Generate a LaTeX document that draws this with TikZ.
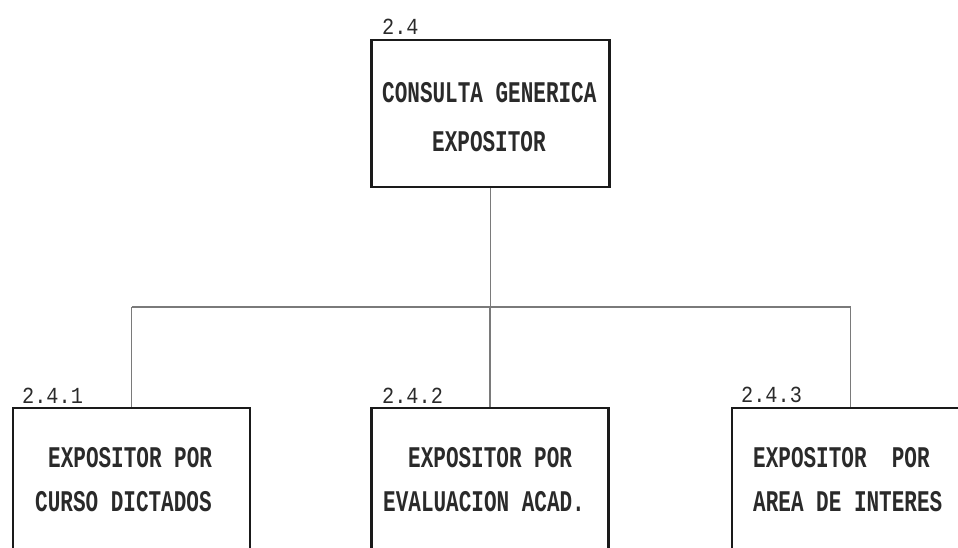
\documentclass[tikz,border=0pt]{standalone}
\usepackage{fontspec}
\newfontfamily\boxfont[FakeStretch=0.7]{Liberation Mono}
\newfontfamily\numfont[FakeStretch=0.88]{Liberation Mono}
\definecolor{boxc}{HTML}{1A1A1A}
\definecolor{linec}{HTML}{7A7A7A}
\definecolor{txtc}{HTML}{2A2A2A}
\begin{document}
\begin{tikzpicture}[x=1pt,y=-1pt,
  procbox/.style={draw=boxc, line width=2.6pt, rectangle, inner sep=0pt, minimum width=237pt},
  link/.style={draw=linec, line width=1.1pt},
  boxtext/.style={anchor=base west, inner sep=0pt, text=txtc, font=\boxfont\bfseries\fontsize{30}{30}\selectfont},
  numtext/.style={anchor=base west, inner sep=0pt, text=txtc, font=\numfont\fontsize{23}{23}\selectfont}]
\useasboundingbox (0,0) rectangle (958,548);
\clip (0,0) rectangle (958,548);
% boxes
\node[procbox, minimum width=238pt, minimum height=147pt] (top) at (490.5,113.5) {};
\node[procbox, minimum height=242pt] (b1) at (131.5,529) {};
\node[procbox, minimum height=242pt] (b2) at (490,529) {};
\node[procbox, minimum height=242pt] (b3) at (850.5,529) {};
% connectors
\coordinate (bus) at (489,307);
\draw[link] (top.south) -- (top.south |- bus);
\draw[link] (b1.north |- bus) -- (b3.north |- bus);
\draw[link] (b1.north |- bus) -- (b1.north);
\draw[link] (b2.north |- bus) -- (b2.north);
\draw[link] (b3.north |- bus) -- (b3.north);
% numbers
\node[numtext] (n0) at (382,35) {2.4};
\node[numtext] (n1) at (22,403) {2.4.1};
\node[numtext] (n2) at (382,403) {2.4.2};
\node[numtext] (n3) at (741,402) {2.4.3};
% texts
\node[boxtext] (t01) at (382,103) {CONSULTA GENERICA};
\node[boxtext] (t02) at (432,152) {EXPOSITOR};
\node[boxtext] (t11) at (48,467) {EXPOSITOR POR};
\node[boxtext] (t12) at (35,511) {CURSO DICTADOS};
\node[boxtext] (t21) at (408,467) {EXPOSITOR POR};
\node[boxtext] (t22) at (383,511) {EVALUACION ACAD.};
\node[boxtext] (t31) at (753,467) {EXPOSITOR\ \ POR};
\node[boxtext] (t32) at (753,511) {AREA DE INTERES};
\end{tikzpicture}
\end{document}
